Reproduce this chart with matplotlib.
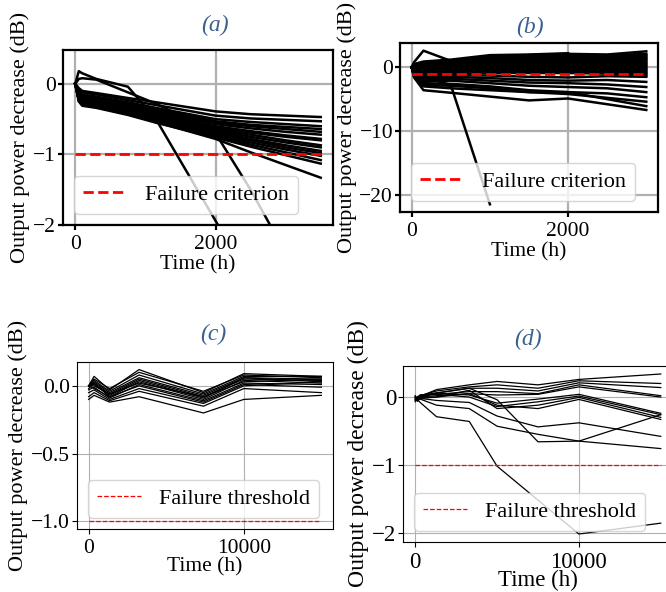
import numpy as np
import matplotlib
matplotlib.use('Agg')
from matplotlib import pyplot as plt

plt.rcParams['font.family'] = ['Liberation Serif', 'DejaVu Serif']

W, H = 666, 592

# ---- panel (a): output power decrease vs time, thick style
t_a = [0, 50, 100, 300, 750, 1150, 2000, 2500, 3000, 3500]
lines_a = [
    [0, -0.06, -0.10, -0.13, -0.20, -0.26, -0.39, -0.43, -0.45, -0.47],
    [0, -0.08, -0.12, -0.15, -0.23, -0.30, -0.45, -0.49, -0.51, -0.53],
    [0, -0.10, -0.15, -0.18, -0.26, -0.34, -0.50, -0.54, -0.57, -0.60],
    [0, -0.12, -0.17, -0.20, -0.28, -0.36, -0.53, -0.58, -0.61, -0.64],
    [0, -0.13, -0.19, -0.22, -0.30, -0.38, -0.55, -0.60, -0.64, -0.68],
    [0, -0.15, -0.20, -0.23, -0.32, -0.40, -0.57, -0.63, -0.68, -0.72],
    [0, -0.16, -0.22, -0.25, -0.34, -0.42, -0.60, -0.67, -0.73, -0.78],
    [0, -0.17, -0.23, -0.26, -0.35, -0.43, -0.62, -0.69, -0.75, -0.80],
    [0, -0.18, -0.24, -0.27, -0.36, -0.45, -0.64, -0.72, -0.80, -0.87],
    [0, -0.20, -0.26, -0.29, -0.38, -0.47, -0.66, -0.75, -0.83, -0.90],
    [0, -0.21, -0.27, -0.30, -0.39, -0.48, -0.68, -0.78, -0.87, -0.95],
    [0, -0.22, -0.28, -0.31, -0.40, -0.50, -0.70, -0.80, -0.90, -0.98],
    [0, -0.23, -0.29, -0.32, -0.42, -0.52, -0.72, -0.83, -0.93, -1.02],
    [0, -0.24, -0.30, -0.33, -0.43, -0.53, -0.74, -0.86, -0.97, -1.08],
    [0, -0.25, -0.31, -0.34, -0.44, -0.55, -0.76, -0.89, -1.01, -1.13],
    [0, -0.22, -0.28, -0.32, -0.43, -0.54, -0.78, -0.97, -1.15, -1.33],
    [0, 0.18, 0.15, 0.07, -0.04, -0.50, -1.94, -2.80, np.nan, np.nan],
    [0, 0.07, 0.08, 0.06, -0.12, -0.28, -0.70, -1.50, -2.40, np.nan],
]
fail_a = -1.0

# ---- panel (b)
t_b = [0, 30, 150, 500, 1000, 1500, 2000, 2500, 3000]
lines_b = [
    [0, 0.8, 2.6, 1.0, 1.4, 1.9, 2.1, 2.0, 2.5],
    [0, 0.5, 0.9, 1.2, 1.9, 2.0, 2.2, np.nan, np.nan],
    [0, 0.3, 0.7, 1.0, 1.7, 1.9, 2.0, 1.9, 2.1],
    [0, 0.4, 0.6, 0.9, 1.5, 1.8, 1.8, 1.6, 1.9],
    [0, 0.2, 0.5, 0.8, 1.3, 1.6, 1.7, 1.5, 1.7],
    [0, 0.1, 0.4, 0.7, 1.2, 1.5, 1.5, 1.4, 1.5],
    [0, 0.2, 0.3, 0.6, 1.0, 1.3, 1.4, 1.2, 1.3],
    [0, 0.0, 0.2, 0.5, 0.9, 1.1, 1.2, 1.1, 1.1],
    [0, 0.1, 0.1, 0.4, 0.7, 1.0, 1.0, 0.9, 0.9],
    [0, -0.1, 0.0, 0.3, 0.6, 0.8, 0.9, 0.8, 0.7],
    [0, 0.0, -0.1, 0.2, 0.4, 0.6, 0.7, 0.6, 0.5],
    [0, -0.2, -0.2, 0.1, 0.3, 0.5, 0.5, 0.4, 0.3],
    [0, -0.1, -0.3, 0.0, 0.2, 0.3, 0.4, 0.3, 0.1],
    [0, -0.3, -0.4, -0.1, 0.0, 0.2, 0.2, 0.1, -0.1],
    [0, -0.2, -0.5, -0.2, -0.1, 0.0, 0.0, -0.1, -0.3],
    [0, -0.4, -0.6, -0.3, -0.3, -0.2, -0.2, -0.3, -0.5],
    [0, -0.3, -0.8, -0.5, -0.4, -0.3, -0.3, -0.5, -0.7],
    [0, -0.5, -0.9, -0.6, -0.6, -0.5, -0.5, -0.6, -0.9],
    [0, -0.6, -1.1, -0.8, -0.7, -0.7, -0.7, -0.8, -1.1],
    [0, -0.5, -1.2, -0.9, -0.9, -0.9, -0.9, -1.0, -1.3],
    [0, -0.8, -1.4, -1.2, -1.3, -1.5, -1.6, -1.4, -1.5],
    [0, -1.0, -1.6, -1.5, -1.7, -2.0, -2.1, -2.0, -2.3],
    [0, -0.9, -1.9, -1.8, -2.1, -2.4, -2.5, -2.7, -3.1],
    [0, -1.2, -2.2, -2.1, -2.5, -2.9, -3.1, -3.3, -3.9],
    [0, -1.4, -2.5, -2.6, -3.0, -3.6, -3.9, -4.1, -4.7],
    [0, -1.1, -2.8, -2.9, -3.3, -3.9, -4.2, -4.8, -5.4],
    [0, -1.5, -3.0, -3.3, -3.6, -3.9, -3.9, -5.0, -6.1],
    [0, -1.6, -3.6, -4.0, -4.6, -5.2, -4.9, -5.8, -6.7],
    [0, -0.5, -1.5, -2.8, -21.5, np.nan, np.nan, np.nan, np.nan],
]
fail_b = -1.0

# ---- panel (c)
t_c = [0, 350, 1350, 3250, 7400, 10000, 15000]
lines_c = [
    [0.00, 0.07, -0.03, 0.12, -0.05, 0.09, 0.07],
    [0.00, 0.05, -0.02, 0.10, -0.04, 0.08, 0.06],
    [0.00, 0.04, -0.04, 0.08, -0.06, 0.07, 0.07],
    [0.00, 0.03, -0.05, 0.06, -0.07, 0.06, 0.05],
    [0.00, 0.02, -0.06, 0.05, -0.08, 0.05, 0.04],
    [0.00, 0.01, -0.07, 0.04, -0.09, 0.06, 0.03],
    [-0.02, 0.02, -0.08, 0.03, -0.10, 0.04, 0.02],
    [0.00, 0.00, -0.06, 0.02, -0.08, 0.03, 0.05],
    [-0.03, -0.01, -0.09, 0.01, -0.11, 0.02, 0.01],
    [0.00, -0.02, -0.08, 0.00, -0.12, 0.01, -0.01],
    [-0.05, -0.03, -0.10, -0.02, -0.13, 0.00, 0.03],
    [-0.08, -0.05, -0.11, -0.04, -0.15, -0.02, -0.05],
    [-0.10, -0.07, -0.12, -0.08, -0.20, -0.10, -0.07],
]
fail_c = -1.0

# ---- panel (d)
t_d = [0, 150, 300, 1300, 3300, 5000, 7500, 10000, 15000]
lines_d = [
    [0.00, -0.02, 0.01, 0.11, 0.18, 0.23, 0.18, 0.26, 0.34],
    [-0.03, 0.00, 0.02, 0.09, 0.15, 0.18, 0.13, 0.24, 0.20],
    [0.02, -0.04, 0.00, 0.06, 0.13, 0.13, 0.09, 0.21, 0.14],
    [-0.05, -0.02, 0.03, 0.04, 0.08, 0.08, 0.05, 0.18, 0.02],
    [0.00, -0.06, -0.01, 0.00, 0.05, 0.03, 0.04, 0.15, 0.00],
    [-0.04, 0.01, 0.00, 0.06, 0.03, -0.09, -0.03, 0.04, -0.24],
    [-0.07, -0.03, 0.02, 0.04, 0.00, -0.14, -0.07, 0.015, -0.26],
    [0.01, -0.05, -0.02, 0.00, 0.10, -0.17, -0.12, -0.005, -0.30],
    [-0.02, -0.06, 0.00, 0.02, 0.05, -0.12, -0.17, -0.035, -0.33],
    [0.00, -0.03, -0.02, -0.05, -0.08, -0.28, -0.44, -0.38, -0.58],
    [-0.03, 0.00, 0.03, 0.06, 0.13, -0.04, -0.66, -0.65, -0.26],
    [-0.05, -0.02, -0.03, -0.12, -0.17, -0.43, -0.55, -0.65, -0.76],
    [0.00, -0.04, -0.08, -0.29, -0.36, -1.02, -1.52, -2.02, -1.86],
]
fail_d = -1.0

title_color = '#3a5f91'

fig = plt.figure(figsize=(W / 100, H / 100), dpi=100)


def px_axes(left, top, right, bottom):
    return fig.add_axes([left / W, 1 - bottom / H, (right - left) / W, (bottom - top) / H])


panels = [
    dict(box=(63, 50, 333, 225), t=t_a, lines=lines_a, fail=fail_a, tend=3500,
         lab='Failure criterion', name='(a)', tpos=(215, 25), thick=True,
         xt=[0, 2000], yt=[-2, -1, 0], ylim=(-2, 0.48), fs=15.5, xpad=1),
    dict(box=(400, 43, 658, 212), t=t_b, lines=lines_b, fail=fail_b, tend=3000,
         lab='Failure criterion', name='(b)', tpos=(530, 27), thick=True,
         xt=[0, 2000], yt=[-20, -10, 0], ylim=None, fs=15.5, xpad=1),
    dict(box=(77, 362, 333, 529), t=t_c, lines=lines_c, fail=fail_c, tend=15000,
         lab='Failure threshold', name='(c)', tpos=(213, 334), thick=False,
         xt=[0, 10000], yt=[-1.0, -0.5, 0.0], ylim=None, fs=15.5, xpad=0),
    dict(box=(403, 366, 673, 542), t=t_d, lines=lines_d, fail=fail_d, tend=15000,
         lab='Failure threshold', name='(d)', tpos=(528, 339), thick=False,
         xt=[0, 10000], yt=[-2, -1, 0], ylim=None, fs=16.5, xpad=-2),
]

for p in panels:
    ax = px_axes(*p['box'])
    lw = 1.8 if p['thick'] else 0.9
    for y in p['lines']:
        ax.plot(p['t'], y, color='black', lw=lw)
    ax.plot([0, p['tend']], [p['fail'], p['fail']], 'r--',
            lw=2.0 if p['thick'] else 0.9, label=p['lab'])
    if p['ylim'] is not None:
        ax.set_ylim(*p['ylim'])
    ax.set_xticks(p['xt'])
    ax.set_yticks(p['yt'])
    ax.grid(True, color='#b0b0b0', lw=1.6 if p['thick'] else 0.8)
    ax.set_axisbelow(True)
    for s in ax.spines.values():
        s.set_linewidth(1.6 if p['thick'] else 0.8)
    ax.tick_params(labelsize=p['fs'], width=1.6 if p['thick'] else 0.8)
    ax.tick_params(axis='y', pad=1.5)
    ax.set_xlabel('Time (h)', fontsize=p['fs'], labelpad=p['xpad'])
    ax.set_ylabel('Output power decrease (dB)', fontsize=p['fs'] + 0.5, labelpad=2)
    ax.legend(loc='lower left', fontsize=16)
    fig.text(p['tpos'][0] / W, 1 - p['tpos'][1] / H, p['name'], color=title_color,
             fontsize=17, style='italic', ha='center', va='center')

fig.savefig('out.png', dpi=100)
